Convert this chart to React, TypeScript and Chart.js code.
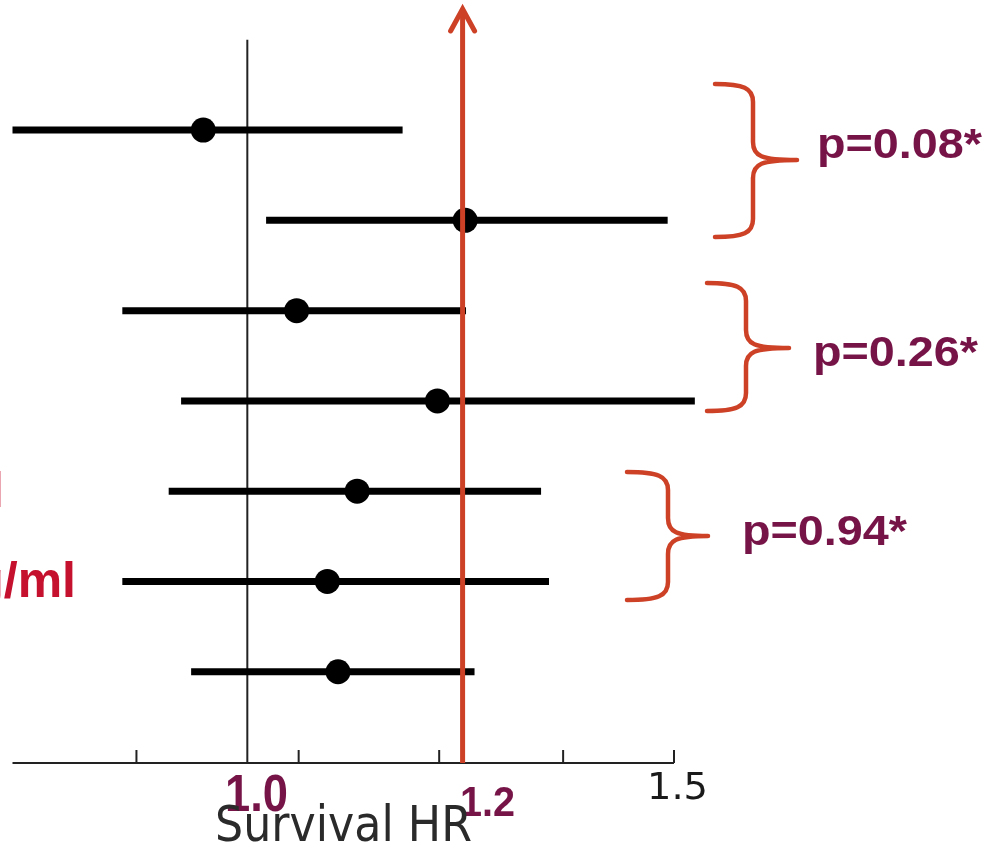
import React, { useEffect, useRef } from "react";
import { Chart, registerables } from "chart.js";

Chart.register(...registerables);

// ---- data ----
const rowIds = [1, 2, 3, 4, 5, 6, 7];
const hr = [0.959, 1.23, 1.048, 1.198, 1.11, 1.079, 1.09];
const ciLow = [0.8, 1.018, 0.888, 0.939, 0.928, 0.888, 0.948];
const ciHigh = [1.159, 1.491, 1.231, 1.53, 1.322, 1.332, 1.241];
const tickValues = [0.9, 1.05, 1.2, 1.35, 1.5];
const axisMin = 0.8;
const axisMax = 1.5;
const refValue = 1.0;
const highlightValue = 1.227;
const pLabels = ["p=0.08*", "p=0.26*", "p=0.94*"];
const markLabels = ["1.0", "1.2"];
const endTickLabel = "1.5";
const axisTitle = "Survival HR";
const redRowLabels = ["≥ 25 ng/ml", "< 25 ng/ml"];

const RED = "#cd4127";
const PURPLE = "#761448";
const CRIMSON = "#c5102e";

function fitText(
  ctx: CanvasRenderingContext2D,
  text: string,
  left: number,
  right: number,
  baseline: number,
  font: string,
  color: string
) {
  ctx.save();
  ctx.font = font;
  const w = ctx.measureText(text).width;
  ctx.translate(left, baseline);
  ctx.scale((right - left) / w, 1);
  ctx.fillStyle = color;
  ctx.textAlign = "left";
  ctx.textBaseline = "alphabetic";
  ctx.fillText(text, 0, 0);
  ctx.restore();
}

function brace(
  ctx: CanvasRenderingContext2D,
  x0: number,
  xv: number,
  xt: number,
  yTop: number,
  yMid: number,
  yBot: number
) {
  const r = 18;
  ctx.save();
  ctx.strokeStyle = RED;
  ctx.lineWidth = 4.5;
  ctx.lineCap = "round";
  ctx.lineJoin = "round";
  ctx.beginPath();
  ctx.moveTo(x0, yTop);
  ctx.bezierCurveTo(x0 + (xv - x0) * 0.75, yTop, xv, yTop + 4, xv, yTop + r);
  ctx.lineTo(xv, yMid - r);
  ctx.bezierCurveTo(xv, yMid - 4, xv + 8, yMid, xt, yMid);
  ctx.moveTo(xt, yMid);
  ctx.bezierCurveTo(xv + 8, yMid, xv, yMid + 4, xv, yMid + r);
  ctx.lineTo(xv, yBot - r);
  ctx.bezierCurveTo(xv, yBot - 4, x0 + (xv - x0) * 0.75, yBot, x0, yBot);
  ctx.stroke();
  ctx.restore();
}

const decorPlugin = {
  id: "forestDecor",
  beforeDatasetsDraw(chart: any) {
    const ctx: CanvasRenderingContext2D = chart.ctx;
    const xs = chart.scales.x;
    const ys = chart.scales.y;
    const axisY = ys.getPixelForValue(8) + 1;
    ctx.save();
    ctx.strokeStyle = "#222";
    ctx.lineCap = "butt";
    // reference line at HR = 1
    ctx.lineWidth = 2;
    const xr = xs.getPixelForValue(refValue);
    ctx.beginPath();
    ctx.moveTo(xr, ys.getPixelForValue(0));
    ctx.lineTo(xr, axisY);
    ctx.stroke();
    // axis line
    ctx.lineWidth = 2;
    ctx.beginPath();
    ctx.moveTo(xs.getPixelForValue(axisMin), axisY);
    ctx.lineTo(xs.getPixelForValue(axisMax), axisY);
    ctx.stroke();
    // ticks (pointing up)
    tickValues.forEach((v) => {
      const px = xs.getPixelForValue(v);
      ctx.beginPath();
      ctx.moveTo(px, axisY);
      ctx.lineTo(px, axisY - 13);
      ctx.stroke();
    });
    ctx.restore();
  },
  afterDatasetsDraw(chart: any) {
    const ctx: CanvasRenderingContext2D = chart.ctx;
    const xs = chart.scales.x;
    const ys = chart.scales.y;
    const axisY = ys.getPixelForValue(8) + 1;
    // red arrow
    const xa = xs.getPixelForValue(highlightValue);
    ctx.save();
    ctx.strokeStyle = RED;
    ctx.lineWidth = 5;
    ctx.lineCap = "butt";
    ctx.beginPath();
    ctx.moveTo(xa, axisY);
    ctx.lineTo(xa, 10);
    ctx.stroke();
    ctx.lineCap = "round";
    ctx.lineJoin = "miter";
    ctx.beginPath();
    ctx.moveTo(xa - 12, 31);
    ctx.lineTo(xa, 9);
    ctx.lineTo(xa + 12, 31);
    ctx.stroke();
    ctx.restore();

    // braces
    brace(ctx, 715, 753, 797, 84, 160, 237);
    brace(ctx, 707, 746, 789, 283, 348, 411);
    brace(ctx, 627, 668, 708, 472, 536, 600);

    // p-values
    const pf = 'bold 42px "Liberation Sans", Arial, sans-serif';
    fitText(ctx, pLabels[0], 817, 982, 158, pf, PURPLE);
    fitText(ctx, pLabels[1], 813, 978, 366, pf, PURPLE);
    fitText(ctx, pLabels[2], 742, 907, 545, pf, PURPLE);

    // axis annotations
    fitText(ctx, markLabels[0], 225, 288, 811, 'bold 52px "Liberation Sans", Arial, sans-serif', PURPLE);
    fitText(ctx, markLabels[1], 460, 515, 816, 'bold 42px "Liberation Sans", Arial, sans-serif', PURPLE);
    fitText(ctx, endTickLabel, 647, 708, 799, '38px "DejaVu Sans", Verdana, sans-serif', "#1a1a1a");
    fitText(ctx, axisTitle, 215, 472, 841, '50px "DejaVu Sans", Verdana, sans-serif', "#2a2a2a");

    // clipped red row labels on the left
    ctx.save();
    ctx.font = 'bold 50px "Liberation Sans", Arial, sans-serif';
    ctx.fillStyle = CRIMSON;
    ctx.textAlign = "right";
    ctx.textBaseline = "alphabetic";
    ctx.fillText(redRowLabels[0], 4, 507);
    ctx.fillText(redRowLabels[1], 76, 597);
    ctx.restore();
  },
};

export default function App() {
  const ref = useRef<HTMLCanvasElement | null>(null);
  useEffect(() => {
    if (!ref.current) return;
    const ciSets = rowIds.map((r, i) => ({
      type: "scatter" as const,
      data: [
        { x: ciLow[i], y: r },
        { x: ciHigh[i], y: r },
      ],
      showLine: true,
      borderColor: "#000",
      borderWidth: 7,
      borderCapStyle: "butt" as const,
      pointRadius: 0,
      pointHoverRadius: 0,
      clip: false as any,
      order: 2,
    }));
    const pointSet = {
      type: "scatter" as const,
      data: rowIds.map((r, i) => ({ x: hr[i], y: r })),
      pointRadius: 12.5,
      pointHoverRadius: 12.5,
      backgroundColor: "#000",
      borderWidth: 0,
      clip: false as any,
      order: 1,
    };
    const chart = new Chart(ref.current, {
      type: "scatter",
      data: { datasets: [...ciSets, pointSet] as any },
      options: {
        animation: false,
        responsive: false,
        devicePixelRatio: 1,
        layout: { padding: { left: 11.7, right: 312, top: 39.8, bottom: 82 } },
        scales: {
          x: { type: "logarithmic", min: axisMin, max: axisMax, display: false },
          y: { type: "linear", min: 0, max: 8, reverse: true, display: false },
        },
        plugins: { legend: { display: false }, tooltip: { enabled: false } },
      },
      plugins: [decorPlugin],
    });
    return () => chart.destroy();
  }, []);
  return (
    <div style={{ position: "absolute", left: 0, top: 0, width: 986, height: 844, background: "#fff" }}>
      <canvas ref={ref} width={986} height={844} style={{ display: "block" }} />
    </div>
  );
}
